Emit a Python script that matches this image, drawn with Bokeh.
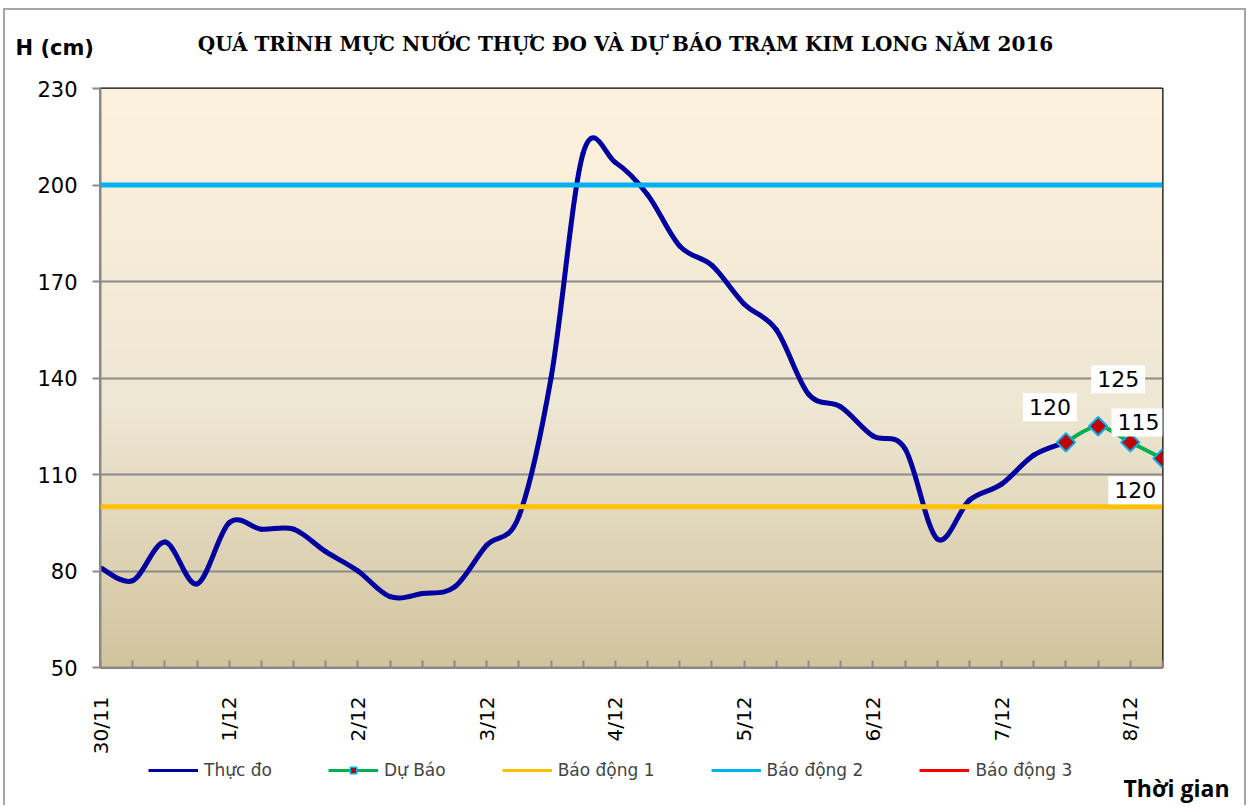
import numpy as np
from bokeh.plotting import figure
from bokeh.layouts import column
from bokeh.models import (Range1d, FixedTicker, Span, Label, Legend, LegendItem)
from bokeh.embed import file_html
from bokeh.resources import INLINE

# ---------------- data ----------------
DATE_LABELS = ["30/11", "1/12", "2/12", "3/12", "4/12", "5/12", "6/12", "7/12", "8/12"]
STEPS_PER_DAY = 4          # one value every 6 hours
N_STEPS = 34               # positions 0..33
OBSERVED = [81, 77, 89, 76, 95, 93, 93, 86, 80, 72, 73, 75, 88, 97, 140, 210,
            207, 197, 181, 175, 163, 155, 135, 131, 122, 118, 90, 102, 107, 116, 120]
FORECAST_START = 30
FORECAST = [120, 125, 120, 115]
ALARM_LEVELS = [100, 200, 350]
ALARM_NAMES = ["Báo động 1", "Báo động 2", "Báo động 3"]
Y_TICKS = [50, 80, 110, 140, 170, 200, 230]
Y_MIN, Y_MAX = 50, 230

TITLE = "QUÁ TRÌNH MỰC NƯỚC THỰC ĐO VÀ DỰ BÁO TRẠM KIM LONG NĂM 2016"
Y_UNIT = "H (cm)"
X_NAME = "Thời gian"

# ---------------- styles ----------------
C_OBS = "#0000A0"
C_FC = "#00B050"
C_ALARM = ["#FFC000", "#00B0F0", "#FF0000"]
C_GRID = "#8A8A8A"
FONT = "DejaVu Sans"

W = 1239
H_TOP, H_MAIN, H_BOT = 66, 683, 46


def strip(height):
    f = figure(width=W, height=height, output_backend="svg", toolbar_location=None,
               x_range=Range1d(0, 1), y_range=Range1d(0, 1),
               x_axis_type=None, y_axis_type=None, min_border=0)
    f.frame_align = False
    f.grid.grid_line_color = None
    f.outline_line_color = None
    f.background_fill_color = "white"
    f.border_fill_color = "white"
    return f


# ---------------- top strip: title + unit ----------------
p_top = strip(H_TOP)
p_top.add_layout(Label(x=620, y=H_TOP - 33, x_units="screen", y_units="screen", text=TITLE,
                       text_align="center", text_baseline="middle", text_color="black",
                       text_font="DejaVu Serif", text_font_style="bold", text_font_size="20px"))
p_top.add_layout(Label(x=10, y=H_TOP - 37, x_units="screen", y_units="screen", text=Y_UNIT,
                       text_align="left", text_baseline="middle", text_color="black",
                       text_font=FONT, text_font_style="bold", text_font_size="21px"))

# ---------------- main chart ----------------
p = figure(width=W, height=H_MAIN, output_backend="svg", toolbar_location=None,
           x_range=Range1d(0, N_STEPS - 1), y_range=Range1d(Y_MIN, Y_MAX),
           min_border_left=95, min_border_right=82, min_border_top=12, min_border_bottom=92)
p.frame_align = False
p.background_fill_color = None
p.border_fill_color = "white"
p.outline_line_color = "black"
p.outline_line_width = 2

# gradient background as an image
rows = 240
frac = np.linspace(0, 1, rows)  # 0 = bottom, 1 = top
stops = [0.0, 0.45, 1.0]
cols = np.array([[210, 196, 158], [238, 231, 211], [253, 242, 221]], dtype=float)
img = np.empty((rows, 1), dtype=np.uint32)
v = img.view(dtype=np.uint8).reshape((rows, 1, 4))
for ch in range(3):
    v[:, 0, ch] = np.interp(frac, stops, cols[:, ch]).astype(np.uint8)
v[:, 0, 3] = 255
p.image_rgba(image=[img], x=0, y=Y_MIN, dw=N_STEPS - 1, dh=Y_MAX - Y_MIN, level="image")

# grid
p.xgrid.grid_line_color = None
p.ygrid.grid_line_color = C_GRID
p.ygrid.grid_line_width = 2
p.ygrid.ticker = FixedTicker(ticks=Y_TICKS)

# axes
p.yaxis.ticker = FixedTicker(ticks=Y_TICKS)
p.yaxis.axis_line_color = C_GRID
p.yaxis.axis_line_width = 2
p.yaxis.major_tick_line_color = C_GRID
p.yaxis.major_tick_line_width = 2
p.yaxis.major_tick_out = 8
p.yaxis.major_tick_in = 0
p.yaxis.minor_tick_line_color = None
p.yaxis.major_label_text_font = FONT
p.yaxis.major_label_text_font_size = "21px"
p.yaxis.major_label_text_color = "black"
p.yaxis.major_label_standoff = 15

xt = list(range(N_STEPS))
p.xaxis.ticker = FixedTicker(ticks=xt)
p.xaxis.major_label_overrides = {i: (DATE_LABELS[i // STEPS_PER_DAY] if i % STEPS_PER_DAY == 0 else "")
                                 for i in xt}
p.xaxis.major_label_orientation = np.pi / 2
p.xaxis.axis_line_color = C_GRID
p.xaxis.axis_line_width = 2
p.xaxis.major_tick_line_color = C_GRID
p.xaxis.major_tick_line_width = 2
p.xaxis.major_tick_in = 7
p.xaxis.major_tick_out = 0
p.xaxis.minor_tick_line_color = None
p.xaxis.major_label_text_font = FONT
p.xaxis.major_label_text_font_size = "20px"
p.xaxis.major_label_text_color = "black"
p.xaxis.major_label_standoff = 29


def bezier_segments(xs, ys):
    xs = np.asarray(xs, float)
    ys = np.asarray(ys, float)
    n = len(xs)
    seg = dict(x0=[], y0=[], x1=[], y1=[], cx0=[], cy0=[], cx1=[], cy1=[])
    for i in range(n - 1):
        ip = max(i - 1, 0)
        inx = min(i + 2, n - 1)
        seg["x0"].append(xs[i]); seg["y0"].append(ys[i])
        seg["x1"].append(xs[i + 1]); seg["y1"].append(ys[i + 1])
        seg["cx0"].append(xs[i] + (xs[i + 1] - xs[ip]) / 6)
        seg["cy0"].append(ys[i] + (ys[i + 1] - ys[ip]) / 6)
        seg["cx1"].append(xs[i + 1] - (xs[inx] - xs[i]) / 6)
        seg["cy1"].append(ys[i + 1] - (ys[inx] - ys[i]) / 6)
    return seg


obs_x = list(range(len(OBSERVED)))
fc_x = [FORECAST_START + i for i in range(len(FORECAST))]

p.bezier(line_color=C_OBS, line_width=5, line_cap="round", **bezier_segments(obs_x, OBSERVED))
p.bezier(line_color=C_FC, line_width=4, line_cap="round", **bezier_segments(fc_x, FORECAST))
p.scatter(fc_x, FORECAST, marker="square", angle=np.pi / 4, size=13,
          fill_color="#C00000", line_color="#00B0F0", line_width=2)

# alarm levels
for lvl, c in zip(ALARM_LEVELS, C_ALARM):
    p.add_layout(Span(location=lvl, dimension="width", line_color=c, line_width=5))

# data labels
LABEL_OFFSETS = [(-16, 35), (20, 47), (5, -48), (-24, 36)]
for xv, yv, (dx, dy) in zip(fc_x, FORECAST, LABEL_OFFSETS):
    p.add_layout(Label(x=xv, y=yv, text=str(yv), x_offset=dx, y_offset=dy,
                       text_align="center", text_baseline="middle",
                       text_font=FONT, text_font_size="22px", text_color="black",
                       background_fill_color="white", padding=6))

# ---------------- bottom strip: legend + axis name ----------------
p_bot = strip(H_BOT)
OUT = [-1]  # proxy renderers sit outside the strip's range (legend swatches only)
r_obs = p_bot.line(OUT, OUT, line_color=C_OBS, line_width=3)
r_fc = p_bot.line(OUT, OUT, line_color=C_FC, line_width=3)
r_fcm = p_bot.scatter(OUT, OUT, marker="square", angle=np.pi / 4, size=7,
                      fill_color="#C00000", line_color="#00B0F0", line_width=1.5)
r_al = [p_bot.line(OUT, OUT, line_color=c, line_width=3) for c in C_ALARM]
items = [LegendItem(label="Thực đo", renderers=[r_obs]),
         LegendItem(label="Dự Báo", renderers=[r_fc, r_fcm])]
items += [LegendItem(label=nm, renderers=[r]) for nm, r in zip(ALARM_NAMES, r_al)]
legend = Legend(items=items, orientation="horizontal", location=(143, 25),
                glyph_width=50, glyph_height=16, label_height=16, label_standoff=6, spacing=56,
                label_text_font=FONT, label_text_font_size="17px",
                background_fill_alpha=0, border_line_alpha=0, padding=0, margin=0)
p_bot.add_layout(legend)
p_bot.add_layout(Label(x=1118, y=18, x_units="screen", y_units="screen", text=X_NAME,
                       text_align="left", text_baseline="alphabetic", text_color="black",
                       text_font="Open Sans", text_font_style="bold", text_font_size="23px"))

layout = column(p_top, p, p_bot, spacing=0,
                styles={"border": "2px solid #A6A6A6", "border-bottom": "none",
                        "margin-top": "8px", "margin-left": "3px"})

open("out.html", "w").write(file_html(layout, INLINE))
